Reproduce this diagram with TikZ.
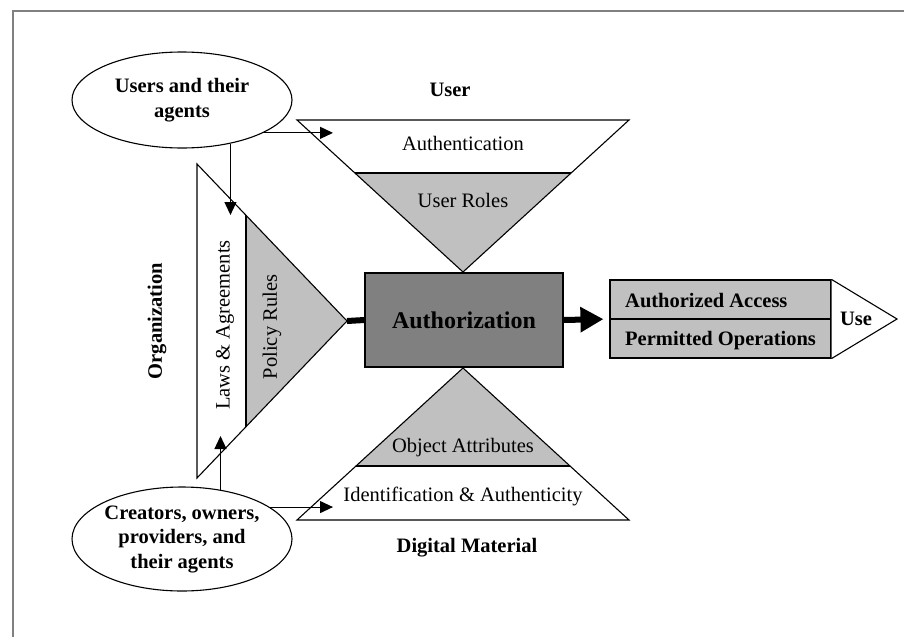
\documentclass[tikz,border=0pt]{standalone}
\usepackage{fontspec}
\setmainfont{Liberation Serif}
\usetikzlibrary{arrows.meta,shapes.geometric}
\definecolor{lgray}{RGB}{192,192,192}
\definecolor{dgray}{RGB}{128,128,128}
\definecolor{framegray}{RGB}{128,128,128}
\begin{document}
\begin{tikzpicture}[x=1pt,y=-1pt,
  txt/.style={font=\fontsize{20.5}{24.5}\selectfont, inner sep=0pt},
  btxt/.style={font=\fontsize{20.5}{24.5}\selectfont\bfseries, inner sep=0pt},
  shp/.style={draw=black, line width=1.1pt, line join=miter},
  arr/.style={line width=1.1pt, -{Triangle[length=13pt,width=12pt]}},
  ell/.style={ellipse, draw=black, line width=1.1pt, inner sep=0pt, align=center,
              font=\fontsize{20.5}{24.5}\selectfont\bfseries},
  thick conn/.style={line width=6pt}
]
\useasboundingbox (0,0) rectangle (904,637);
\draw[framegray, line width=2pt] (13,637) -- (13,11) -- (904,11);

% ---------- top (User) triangle ----------
\fill[white] (297,120) -- (629,120) -- (463,272) -- cycle;
\fill[lgray] (355,173) -- (571,173) -- (463,272) -- cycle;
\draw[shp] (297,120) -- (629,120) -- (463,272) -- cycle;
\draw[shp] (355,173) -- (571,173);
\node[txt] (authn) at (463,143) {Authentication};
\node[txt] (uroles) at (463,200) {User Roles};
\node[btxt] (userlbl) at (450,90) {User};

% ---------- bottom (Digital Material) triangle ----------
\fill[white] (297,520) -- (629,520) -- (463,368) -- cycle;
\fill[lgray] (356,466) -- (570,466) -- (463,368) -- cycle;
\draw[shp] (297,520) -- (629,520) -- (463,368) -- cycle;
\draw[shp] (356,466) -- (570,466);
\node[txt] (objattr) at (463,448) {Object Attributes};
\node[txt] (ident) at (463,496) {Identification \& Authenticity};
\node[btxt] (dmlbl) at (467,548) {Digital Material};

% ---------- left (Organization) triangle ----------
\coordinate (lapex) at (347,321);
\fill[white] (197,164) -- (lapex) -- (197,478) -- cycle;
\fill[lgray] (246,215.3) -- (lapex) -- (246,426.7) -- cycle;
\draw[shp] (197,164) -- (lapex) -- (197,478) -- cycle;
\draw[shp] (246,215.3) -- (246,426.7);
\node[txt, rotate=90] (laws) at (225,325) {Laws \& Agreements};
\node[txt, rotate=90] (policy) at (272,327) {Policy Rules};
\node[btxt, rotate=90] (orglbl) at (157,321) {Organization};

% ---------- Authorization ----------
\node[draw=black, fill=dgray, line width=1.1pt, minimum width=198pt, minimum height=94pt,
      inner sep=0pt, font=\fontsize{24}{28}\selectfont\bfseries] (auth) at (464,320) {Authorization};

% ---------- right box ----------
\node[draw=black, fill=lgray, line width=1.1pt, minimum width=221pt, minimum height=78pt,
      inner sep=0pt] (acc) at (720.5,319) {};
\draw[line width=1.1pt] (acc.west) -- (acc.east);
\coordinate (usetip) at (897,319);
\draw[shp, fill=white] (acc.north east) -- (usetip) -- (acc.south east);
\node[btxt, anchor=base west] (aa) at (625,307) {Authorized Access};
\node[btxt, anchor=base west] (po) at (625,345) {Permitted Operations};
\node[btxt] (uselbl) at (856,319) {Use};

% ---------- thick connectors ----------
\draw[thick conn] (lapex) -- (auth.west);
\draw[thick conn, -{Triangle[length=23pt,width=24pt]}, shorten >=6pt] (auth.east) -- (acc.west);

% ---------- ellipses ----------
\node[ell, fill=white, minimum width=220pt, minimum height=96pt] (ue) at (182,100) {Users and their\\agents};
\node[ell, fill=white, minimum width=220pt, minimum height=104pt] (le) at (182,539) {Creators, owners,\\providers, and\\their agents};

% ---------- thin arrows ----------
\coordinate (tUR) at (333,133);
\coordinate (tD) at (230,215);
\coordinate (tU) at (220,436);
\coordinate (tLR) at (333,507);
\draw[arr] (ue.-22.4) -- (ue.-22.4 -| tUR);
\draw[arr] (ue.-42) -- (ue.-42 |- tD);
\draw[arr] (le.52.1) -- (le.52.1 |- tU);
\draw[arr] (le.20.3) -- (le.20.3 -| tLR);
\end{tikzpicture}
\end{document}
